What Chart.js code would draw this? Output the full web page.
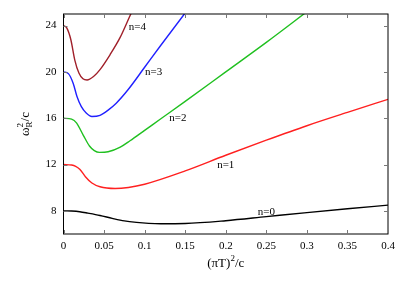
<!DOCTYPE html>
<html>
<head>
<meta charset="utf-8">
<script src="https://cdn.jsdelivr.net/npm/chart.js@4.4.1/dist/chart.umd.min.js"></script>
<style>
  html, body { margin: 0; padding: 0; background: #fff; }
  #wrap { width: 401px; height: 281px; }
</style>
</head>
<body>
<div id="wrap"><canvas id="chart" width="401" height="281"></canvas></div>
<script>
// curve readings, one pair of arrays per branch
const n0X = [0, 0.01, 0.02, 0.03, 0.045, 0.06, 0.075, 0.09, 0.105, 0.12, 0.15, 0.2, 0.25, 0.3, 0.35, 0.4];
const n0Y = [8, 7.98, 7.92, 7.8, 7.6, 7.35, 7.13, 7.0, 6.92, 6.89, 6.91, 7.15, 7.5, 7.85, 8.18, 8.49];

const n1X = [0, 0.01, 0.015, 0.02, 0.027, 0.035, 0.045, 0.0636, 0.08, 0.1, 0.15, 0.2, 0.25, 0.3, 0.35, 0.4];
const n1Y = [12, 11.96, 11.85, 11.6, 10.95, 10.4, 10.08, 9.93, 10.02, 10.3, 11.45, 12.8, 14.1, 15.35, 16.5, 17.63];

const n2X = [0, 0.01, 0.016, 0.0246, 0.032, 0.038, 0.0443, 0.055, 0.07, 0.082, 0.1, 0.12, 0.15, 0.2, 0.25, 0.3];
const n2Y = [16, 15.92, 15.6, 14.5, 13.6, 13.2, 13.05, 13.1, 13.5, 14.05, 14.95, 15.95, 17.45, 20.0, 22.55, 25.2];

const n3X = [0, 0.006, 0.012, 0.0165, 0.022, 0.028, 0.035, 0.045, 0.055, 0.065, 0.08, 0.1, 0.12, 0.149, 0.16];
const n3Y = [20, 19.85, 19.0, 17.9, 17.0, 16.45, 16.15, 16.25, 16.7, 17.3, 18.5, 20.4, 22.3, 25, 26];

const n4X = [0, 0.004, 0.009, 0.014, 0.019, 0.024, 0.029, 0.037, 0.045, 0.0575, 0.07, 0.083, 0.09];
const n4Y = [24, 23.8, 22.8, 21.0, 19.9, 19.4, 19.3, 19.6, 20.2, 21.5, 23.0, 25, 26];

const seriesNames = ['n=0', 'n=1', 'n=2', 'n=3', 'n=4'];
const seriesColors = ['#000000', '#ff2020', '#20c020', '#2020ff', '#a0202a'];
// where the n= labels sit, in data units
const labelX = [0.25, 0.2, 0.141, 0.111, 0.091];
const labelY = [7.9, 11.95, 16.0, 20.0, 23.9];

const xTicks = [0, 0.05, 0.1, 0.15, 0.2, 0.25, 0.3, 0.35, 0.4];
const xTickLabels = ['0', '0.05', '0.1', '0.15', '0.2', '0.25', '0.3', '0.35', '0.4'];
const yTicks = [8, 12, 16, 20, 24];

const serif = '"Liberation Serif", "Times New Roman", serif';

function pairs(xs, ys) {
    return xs.map((x, i) => ({ x: x, y: ys[i] }));
}

const allX = [n0X, n1X, n2X, n3X, n4X];
const allY = [n0Y, n1Y, n2Y, n3Y, n4Y];

const datasets = seriesNames.map((name, i) => ({
    label: name,
    data: pairs(allX[i], allY[i]),
    borderColor: seriesColors[i],
    borderWidth: 1.4,
    pointRadius: 0,
    fill: false,
    cubicInterpolationMode: 'monotone'
}));

// frame, inward ticks, curve labels and axis titles
const framePlugin = {
    id: 'frame',
    afterDatasetsDraw(chart) {
        const ctx = chart.ctx;
        const a = chart.chartArea;
        const xs = chart.scales.x;
        const ys = chart.scales.y;
        ctx.save();
        ctx.strokeStyle = '#000';
        ctx.lineWidth = 1;
        ctx.strokeRect(a.left, a.top, a.right - a.left, a.bottom - a.top);

        ctx.strokeStyle = '#777';
        ctx.beginPath();
        xTicks.forEach(v => {
            const px = Math.round(xs.getPixelForValue(v)) + 0.5;
            ctx.moveTo(px, a.bottom); ctx.lineTo(px, a.bottom - 4);
            ctx.moveTo(px, a.top); ctx.lineTo(px, a.top + 4);
        });
        yTicks.forEach(v => {
            const py = Math.round(ys.getPixelForValue(v)) + 0.5;
            ctx.moveTo(a.left, py); ctx.lineTo(a.left + 4, py);
            ctx.moveTo(a.right, py); ctx.lineTo(a.right - 4, py);
        });
        ctx.stroke();

        ctx.fillStyle = '#000';
        ctx.font = '11px ' + serif;
        ctx.textAlign = 'center';
        ctx.textBaseline = 'middle';
        seriesNames.forEach((name, i) => {
            ctx.fillText(name, xs.getPixelForValue(labelX[i]), ys.getPixelForValue(labelY[i]));
        });

        // x title: (πT)²/c
        const cx = (a.left + a.right) / 2;
        ctx.font = '13px ' + serif;
        ctx.textAlign = 'left';
        ctx.textBaseline = 'alphabetic';
        const p1 = '(\u03c0T)', p2 = '2', p3 = '/c';
        const w1 = ctx.measureText(p1).width;
        const w3 = ctx.measureText(p3).width;
        ctx.font = '9px ' + serif;
        const w2 = ctx.measureText(p2).width;
        let x0 = cx - (w1 + w2 + w3) / 2;
        const base = 267;
        ctx.font = '13px ' + serif;
        ctx.fillText(p1, x0, base);
        ctx.font = '9px ' + serif;
        ctx.fillText(p2, x0 + w1, base - 6);
        ctx.font = '13px ' + serif;
        ctx.fillText(p3, x0 + w1 + w2, base);

        // y title: ω_R²/c, rotated
        const cy = (a.top + a.bottom) / 2;
        ctx.translate(29, cy);
        ctx.rotate(-Math.PI / 2);
        const q1 = '\u03c9', q2 = 'R', q3 = '2', q4 = '/c';
        ctx.font = '13px ' + serif;
        const v1 = ctx.measureText(q1).width;
        const v4 = ctx.measureText(q4).width;
        ctx.font = '9px ' + serif;
        const v2 = ctx.measureText(q2).width;
        const tw = v1 + v2 + v4;
        let y0 = -tw / 2;
        ctx.font = '13px ' + serif;
        ctx.fillText(q1, y0, 0);
        ctx.font = '9px ' + serif;
        ctx.fillText(q2, y0 + v1, 3);
        ctx.fillText(q3, y0 + v1, -6);
        ctx.font = '13px ' + serif;
        ctx.fillText(q4, y0 + v1 + v2, 0);
        ctx.restore();
    }
};

new Chart(document.getElementById('chart').getContext('2d'), {
    type: 'line',
    data: { datasets: datasets },
    options: {
        responsive: false,
        animation: false,
        layout: { padding: { left: 0, right: 13, top: 14, bottom: 0 } },
        plugins: {
            legend: { display: false },
            tooltip: { enabled: false }
        },
        scales: {
            x: {
                type: 'linear',
                min: 0,
                max: 0.4,
                grid: { display: false, drawTicks: false },
                border: { display: false },
                afterBuildTicks: scale => { scale.ticks = xTicks.map(v => ({ value: v })); },
                afterFit: scale => { scale.height = 47; },
                ticks: {
                    padding: 6,
                    color: '#000',
                    font: { family: serif, size: 11 },
                    maxRotation: 0,
                    autoSkip: false,
                    callback: (value, index) => xTickLabels[index]
                }
            },
            y: {
                type: 'linear',
                min: 6,
                max: 25,
                grid: { display: false, drawTicks: false },
                border: { display: false },
                afterBuildTicks: scale => { scale.ticks = yTicks.map(v => ({ value: v })); },
                afterFit: scale => { scale.width = 63.5; },
                ticks: {
                    padding: 7,
                    color: '#000',
                    font: { family: serif, size: 11 },
                    autoSkip: false,
                    callback: value => String(value)
                }
            }
        }
    },
    plugins: [framePlugin]
});
</script>
</body>
</html>
